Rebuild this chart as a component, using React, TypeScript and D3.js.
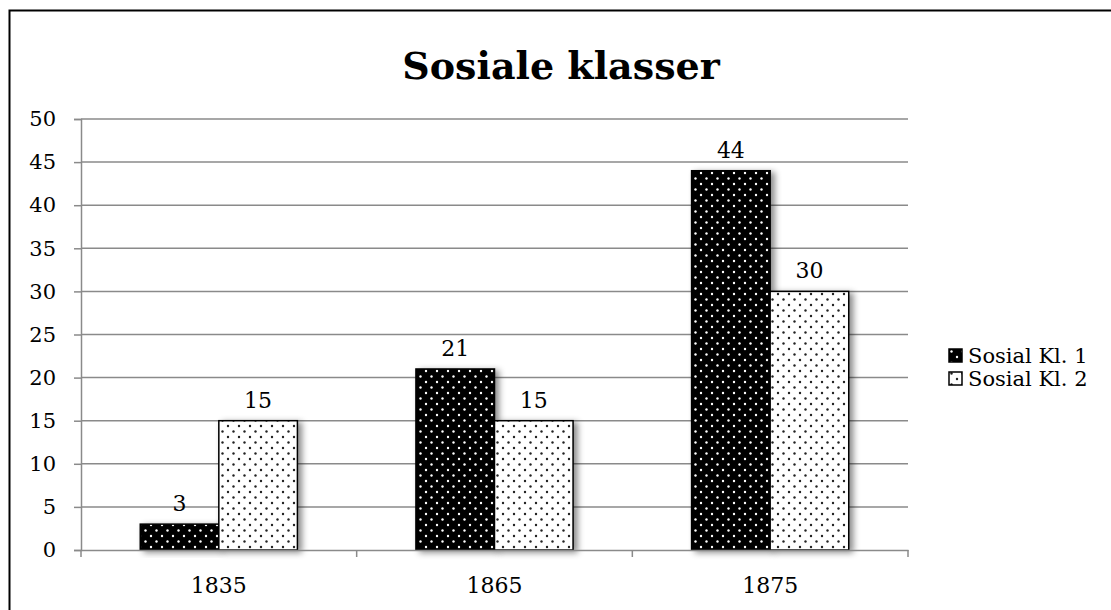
import * as d3 from 'd3';
import { useEffect, useRef } from 'react';

const years = ['1835', '1865', '1875'];
const seriesNames = ['Sosial Kl. 1', 'Sosial Kl. 2'];
const kl1 = [3, 21, 44];
const kl2 = [15, 15, 30];
const yTicks = [0, 5, 10, 15, 20, 25, 30, 35, 40, 45, 50];

const FONT = '"DejaVu Serif", serif';

export default function App() {
    const svgRef = useRef<SVGSVGElement | null>(null);

    useEffect(() => {
        if (!svgRef.current) return;
        const width = 1111;
        const height = 610;
        const margin = { top: 119, right: 203, bottom: 60, left: 81 };

        const svg = d3.select(svgRef.current);
        svg.selectAll('*').remove();
        svg.attr('width', width).attr('height', height);

        // patrones de puntos y sombra
        const defs = svg.append('defs');
        const mkPattern = (id: string, bg: string, dot: string) => {
            const p = defs.append('pattern')
                .attr('id', id)
                .attr('patternUnits', 'userSpaceOnUse')
                .attr('width', 11)
                .attr('height', 11);
            p.append('rect').attr('width', 11).attr('height', 11).attr('fill', bg);
            p.append('circle').attr('cx', 2.5).attr('cy', 2.5).attr('r', 1.2).attr('fill', dot);
            p.append('circle').attr('cx', 8).attr('cy', 8).attr('r', 1.2).attr('fill', dot);
        };
        mkPattern('pat-dark', '#000', '#fff');
        mkPattern('pat-light', '#fff', '#222');

        const filter = defs.append('filter')
            .attr('id', 'shadow')
            .attr('x', '-20%').attr('y', '-20%')
            .attr('width', '150%').attr('height', '150%');
        filter.append('feDropShadow')
            .attr('dx', 4).attr('dy', 2)
            .attr('stdDeviation', 3)
            .attr('flood-color', '#000')
            .attr('flood-opacity', 0.45);

        // marco exterior
        svg.append('rect')
            .attr('x', 9.5).attr('y', 10.5)
            .attr('width', 1200).attr('height', 700)
            .attr('fill', '#fff')
            .attr('stroke', '#000')
            .attr('stroke-width', 2);

        const x = d3.scaleBand<string>()
            .domain(years)
            .range([margin.left, width - margin.right]);

        const y = d3.scaleLinear()
            .domain([0, 50])
            .range([height - margin.bottom, margin.top]);

        const grid = '#8a8a8a';

        // líneas de cuadrícula
        svg.append('g')
            .selectAll('line')
            .data(yTicks.slice(1))
            .join('line')
            .attr('x1', margin.left).attr('x2', width - margin.right)
            .attr('y1', d => y(d)).attr('y2', d => y(d))
            .attr('stroke', grid).attr('stroke-width', 1.5);

        // eje Y
        const yAxis = svg.append('g')
            .attr('transform', `translate(${margin.left},0)`)
            .call(d3.axisLeft(y).tickValues(yTicks).tickSize(7).tickPadding(18));
        yAxis.select('.domain').attr('stroke', grid).attr('stroke-width', 1.5);
        yAxis.selectAll('.tick line').attr('stroke', grid).attr('stroke-width', 1.5);
        yAxis.selectAll('text')
            .attr('font-family', FONT)
            .attr('font-size', 21)
            .attr('fill', '#000');

        // barras
        const bw = x.bandwidth() * 0.285;
        const groups = svg.append('g')
            .selectAll('g')
            .data(years)
            .join('g');

        const series = [
            { vals: kl1, fill: 'url(#pat-dark)', off: -bw },
            { vals: kl2, fill: 'url(#pat-light)', off: 0 },
        ];
        series.forEach(s => {
            groups.append('rect')
                .attr('x', (d) => x(d)! + x.bandwidth() / 2 + s.off)
                .attr('y', (d, i) => y(s.vals[i]))
                .attr('width', bw)
                .attr('height', (d, i) => y(0) - y(s.vals[i]))
                .attr('fill', s.fill)
                .attr('stroke', '#000')
                .attr('stroke-width', 1.5)
                .attr('filter', 'url(#shadow)');
        });
        series.forEach(s => {
            groups.append('text')
                .attr('x', (d) => x(d)! + x.bandwidth() / 2 + s.off + bw / 2)
                .attr('y', (d, i) => y(s.vals[i]) - 13)
                .attr('text-anchor', 'middle')
                .attr('font-family', FONT)
                .attr('font-size', 22)
                .text((d, i) => s.vals[i]);
        });

        // eje X
        const xAxis = svg.append('g')
            .attr('transform', `translate(0,${y(0)})`)
            .call(d3.axisBottom(x).tickSize(0).tickPadding(27));
        xAxis.select('.domain').attr('stroke', grid).attr('stroke-width', 1.5);
        xAxis.selectAll('text')
            .attr('font-family', FONT)
            .attr('font-size', 22)
            .attr('fill', '#000');
        const edges = years.map(d => x(d)!).concat([x(years[years.length - 1])! + x.bandwidth()]);
        xAxis.append('g')
            .selectAll('line')
            .data(edges)
            .join('line')
            .attr('x1', d => d).attr('x2', d => d)
            .attr('y1', 0).attr('y2', 7)
            .attr('stroke', grid).attr('stroke-width', 1.5);

        // título
        svg.append('text')
            .attr('x', 561)
            .attr('y', 79)
            .attr('text-anchor', 'middle')
            .attr('font-family', FONT)
            .attr('font-weight', 'bold')
            .attr('font-size', 38)
            .text('Sosiale klasser');

        // leyenda
        const legend = svg.append('g').attr('transform', 'translate(949,349)');
        const fills = ['url(#pat-dark)', 'url(#pat-light)'];
        seriesNames.forEach((name, i) => {
            legend.append('rect')
                .attr('x', 0).attr('y', i * 23)
                .attr('width', 13).attr('height', 13)
                .attr('fill', fills[i])
                .attr('stroke', '#000')
                .attr('stroke-width', 1.5);
            legend.append('text')
                .attr('x', 19).attr('y', i * 23 + 14)
                .attr('font-family', FONT)
                .attr('font-size', 21)
                .text(name);
        });
    }, []);

    return (
        <svg ref={svgRef} style={{ position: 'absolute', left: 0, top: 0, display: 'block' }} />
    );
}
